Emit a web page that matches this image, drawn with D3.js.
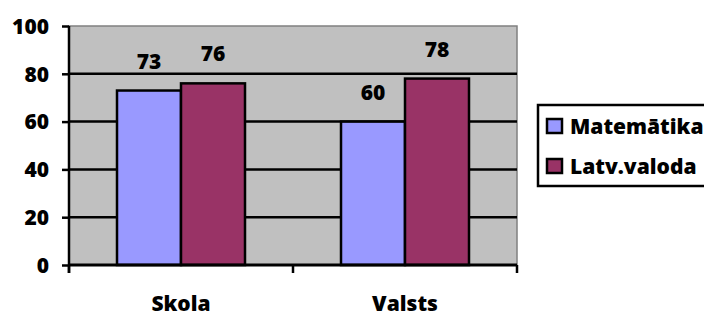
<!DOCTYPE html>
<html>
<head>
<meta charset="utf-8">
<script src="https://cdn.jsdelivr.net/npm/d3@7"></script>
<style>
  html, body { margin: 0; padding: 0; background: #ffffff; }
  svg { display: block; }
  text { font-family: "Open Sans", "Lato", sans-serif; font-weight: 800; fill: #000; }
</style>
</head>
<body>
<svg id="chart" width="704" height="316"></svg>
<script>
const categories = ["Skola", "Valsts"];
const seriesNames = ["Matemātika", "Latv.valoda"];
const matematika = [73, 60];
const latvValoda = [76, 78];
const yTicks = [0, 20, 40, 60, 80, 100];
const colors = ["#9999FF", "#993366"];

const seriesValues = [matematika, latvValoda];
const rows = categories.map((c, i) => ({
  category: c,
  values: seriesNames.map((s, j) => ({ series: s, idx: j, value: seriesValues[j][i] }))
}));

const svg = d3.select("#chart");
const plot = { left: 69, top: 26, right: 517, bottom: 265 };
const fontSize = 21;

const x = d3.scaleBand().domain(categories).range([plot.left, plot.right]).paddingInner(0).paddingOuter(0);
const x1 = d3.scaleBand().domain(seriesNames).range([0, x.bandwidth()]).paddingInner(0).paddingOuter(0.75);
const y = d3.scaleLinear().domain([0, 100]).range([plot.bottom, plot.top]);

// plot background
svg.append("rect")
  .attr("x", plot.left).attr("y", plot.top)
  .attr("width", plot.right - plot.left).attr("height", plot.bottom - plot.top)
  .attr("fill", "#C0C0C0")
  .attr("stroke", "#808080").attr("stroke-width", 1.5);

// gridlines
svg.append("g").selectAll("line")
  .data(yTicks.filter(t => t > 0 && t < 100))
  .join("line")
  .attr("x1", plot.left).attr("x2", plot.right)
  .attr("y1", d => y(d)).attr("y2", d => y(d))
  .attr("stroke", "#000").attr("stroke-width", 2.5);

// bars
const groups = svg.append("g").selectAll("g")
  .data(rows).join("g")
  .attr("transform", d => `translate(${x(d.category)},0)`);

groups.selectAll("rect")
  .data(d => d.values).join("rect")
  .attr("x", d => x1(d.series))
  .attr("y", d => y(d.value))
  .attr("width", x1.bandwidth())
  .attr("height", d => y(0) - y(d.value))
  .attr("fill", d => colors[d.idx])
  .attr("stroke", "#000").attr("stroke-width", 2.5);

groups.selectAll("text")
  .data(d => d.values).join("text")
  .attr("x", d => x1(d.series) + x1.bandwidth() / 2)
  .attr("y", d => y(d.value) - 22)
  .attr("text-anchor", "middle")
  .attr("font-size", fontSize)
  .text(d => d.value);

// y axis
const yAxis = d3.axisLeft(y).tickValues(yTicks).tickSize(7).tickPadding(13);
const gy = svg.append("g").attr("transform", `translate(${plot.left},0)`).call(yAxis);
gy.select(".domain").attr("stroke", "#000").attr("stroke-width", 2.5).attr("d", `M0,${plot.top}V${plot.bottom + 8}`);
gy.selectAll(".tick line").attr("stroke", "#000").attr("stroke-width", 2.5);
gy.selectAll(".tick text").attr("font-size", fontSize).attr("font-family", null).attr("dy", "0.35em");

// x axis
svg.append("line")
  .attr("x1", plot.left).attr("x2", plot.right)
  .attr("y1", plot.bottom).attr("y2", plot.bottom)
  .attr("stroke", "#000").attr("stroke-width", 3);
const xTickPos = [plot.left].concat(categories.map(c => x(c) + x.bandwidth()));
svg.append("g").selectAll("line")
  .data(xTickPos).join("line")
  .attr("x1", d => d).attr("x2", d => d)
  .attr("y1", plot.bottom).attr("y2", plot.bottom + 8)
  .attr("stroke", "#000").attr("stroke-width", 2.5);
svg.append("g").selectAll("text")
  .data(categories).join("text")
  .attr("x", d => x(d) + x.bandwidth() / 2)
  .attr("y", 311)
  .attr("text-anchor", "middle")
  .attr("font-size", fontSize)
  .text(d => d);

// legend
const legend = svg.append("g");
legend.append("rect")
  .attr("x", 538).attr("y", 105).attr("width", 172).attr("height", 81)
  .attr("fill", "#fff").attr("stroke", "#000").attr("stroke-width", 2.5);
const items = legend.selectAll("g.item")
  .data(seriesNames).join("g")
  .attr("class", "item")
  .attr("transform", (d, i) => `translate(547,${119 + i * 40})`);
items.append("rect")
  .attr("width", 15).attr("height", 14)
  .attr("fill", (d, i) => colors[i])
  .attr("stroke", "#000").attr("stroke-width", 2.5);
items.append("text")
  .attr("x", 23).attr("y", 15)
  .attr("font-size", fontSize)
  .text(d => d);
</script>
</body>
</html>
